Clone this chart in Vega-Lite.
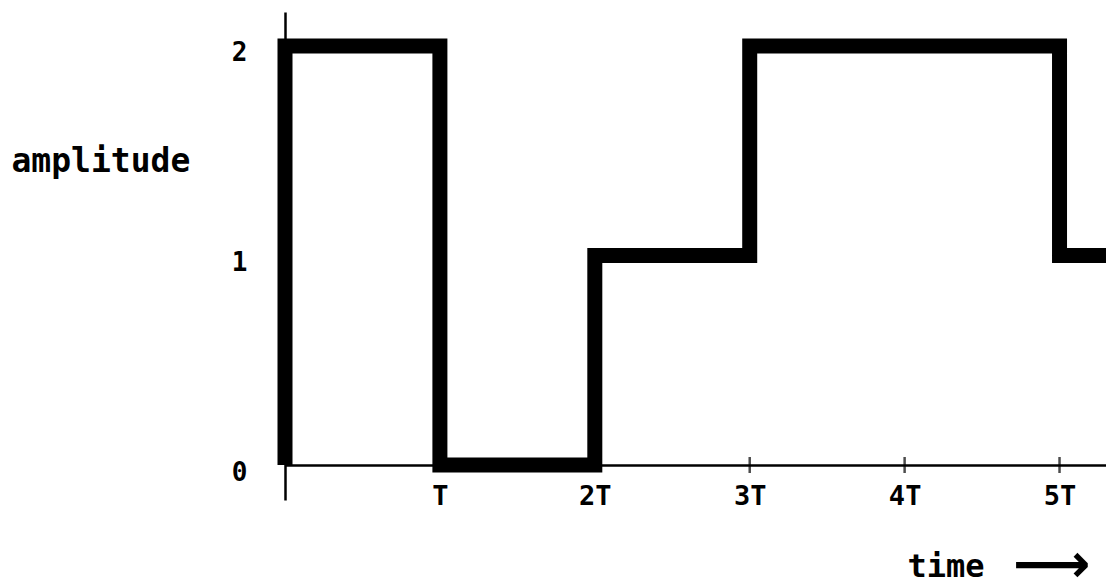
{
  "$schema": "https://vega.github.io/schema/vega-lite/v6.json",
  "autosize": {"type": "none"},
  "width": 821,
  "height": 488,
  "padding": {"left": 285, "top": 12, "right": 0, "bottom": 84},
  "background": "white",
  "config": {"view": {"stroke": null}, "font": "DejaVu Sans Mono"},
  "datasets": {
    "signal": [
      {"t": 0, "a": 0},
      {"t": 0, "a": 2},
      {"t": 1, "a": 0},
      {"t": 2, "a": 1},
      {"t": 3, "a": 2},
      {"t": 5, "a": 1},
      {"t": 5.3, "a": 1}
    ],
    "ticks": [{"t": 3}, {"t": 4}, {"t": 5}],
    "arrow": [{"label": "⟶"}]
  },
  "layer": [
    {
      "data": {"name": "signal"},
      "mark": {"type": "line", "interpolate": "step-after", "color": "black", "strokeWidth": 15, "strokeJoin": "miter", "strokeCap": "butt"},
      "encoding": {
        "x": {
          "field": "t", "type": "quantitative",
          "scale": {"domain": [0, 5.3], "nice": false, "zero": false},
          "axis": {
            "values": [1, 2, 3, 4, 5],
            "labelExpr": "datum.value == 1 ? 'T' : datum.value + 'T'",
            "ticks": false, "grid": false, "offset": -35,
            "domainColor": "black", "domainWidth": 2.5,
            "labelFont": "DejaVu Sans Mono", "labelFontWeight": "bold", "labelFontSize": 27, "labelColor": "black",
            "labelBaseline": "top", "labelPadding": 18, "labelFlush": false, "labelOverlap": false,
            "title": "time", "titleFont": "DejaVu Sans Mono", "titleFontSize": 32, "titleFontWeight": "bold", "titleColor": "black",
            "titleAnchor": "start", "titleAlign": "left", "titleBaseline": "alphabetic", "titleX": 622, "titleY": 111
          }
        },
        "y": {
          "field": "a", "type": "quantitative",
          "scale": {"domain": [-0.167, 2.162], "nice": false, "zero": false},
          "axis": {
            "values": [0, 1, 2], "format": "d",
            "ticks": false, "grid": false,
            "domainColor": "black", "domainWidth": 2.5,
            "labelFont": "DejaVu Sans Mono", "labelFontWeight": "bold", "labelFontSize": 26, "labelColor": "black",
            "labelPadding": 38, "labelOffset": 7, "labelBaseline": "middle",
            "title": "amplitude", "titleFont": "DejaVu Sans Mono", "titleFontSize": 33, "titleFontWeight": "bold", "titleColor": "black",
            "titleAngle": 0, "titleAlign": "left", "titleBaseline": "alphabetic", "titleX": -274, "titleY": 159
          }
        }
      }
    },
    {
      "data": {"name": "ticks"},
      "mark": {"type": "tick", "orient": "vertical", "color": "black", "size": 16, "thickness": 2.5},
      "encoding": {
        "x": {"field": "t", "type": "quantitative"},
        "y": {"datum": 0}
      }
    },
    {
      "data": {"name": "arrow"},
      "mark": {"type": "text", "font": "DejaVu Sans", "fontWeight": "bold", "fontSize": 54, "color": "black", "align": "center", "baseline": "middle"},
      "encoding": {
        "x": {"datum": 4.95},
        "y": {"datum": -0.48},
        "text": {"field": "label"}
      }
    }
  ]
}
